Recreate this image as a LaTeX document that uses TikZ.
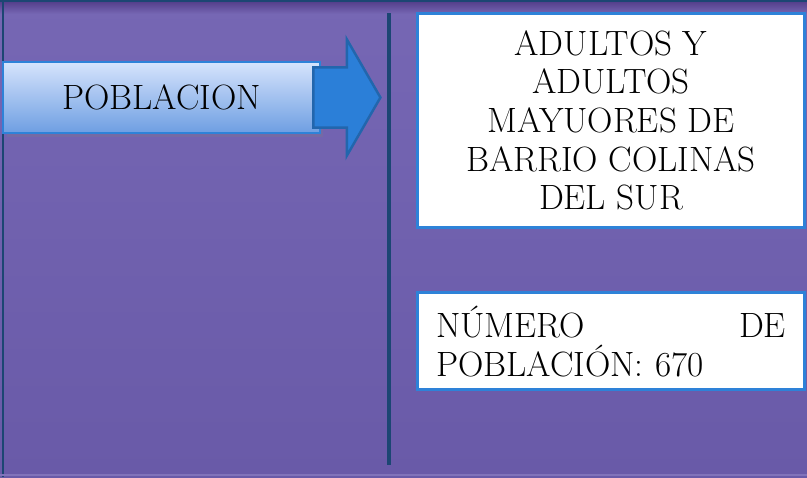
\documentclass[tikz,border=0pt]{standalone}
\usepackage{tikz}
\usetikzlibrary{positioning}
\usetikzlibrary{shapes.arrows, shadows}
\definecolor{fondoarriba}{RGB}{118,103,180}
\definecolor{fondoabajo}{RGB}{105,90,168}
\definecolor{franjaarriba}{RGB}{80,58,134}
\definecolor{azulborde}{RGB}{46,130,216}
\definecolor{azulflecha}{RGB}{43,127,216}
\definecolor{azulclaro}{RGB}{214,228,252}
\definecolor{azulmedio}{RGB}{110,158,226}
\definecolor{lineaoscura}{RGB}{28,70,115}
\tikzset{
x=0.02cm, y=-0.02cm, % one unit is one pixel of the reference
texto/.style={font=\fontsize{20}{22}\selectfont}, % sets the size of all the texts
titulo/.style={texto, draw=azulborde, line width=1.4pt, top color=azulclaro, bottom color=azulmedio,
  drop shadow={opacity=0.25, shadow xshift=2pt, shadow yshift=-2pt}}, % the box on the left
flecha/.style={single arrow, draw=azulflecha!80!black, line width=1.4pt, fill=azulflecha,
  inner xsep=0pt, inner ysep=0.58cm, single arrow head extend=0.56cm,
  single arrow tip angle=120, minimum height=1.34cm}, % the big blue arrow
caja/.style={texto, draw=azulborde, line width=1.7pt, fill=white, minimum width=7.76cm}, % white boxes
lineavertical/.style={lineaoscura, line width=2.6pt}, % the line in the middle
}
\begin{document}
\begin{tikzpicture}
\useasboundingbox (0,0) rectangle (807,477);
% background
\fill[top color=fondoarriba, bottom color=fondoabajo] (0,0) rectangle (807,477);
\fill[top color=franjaarriba, bottom color=fondoarriba] (0,0) rectangle (807,14);
\draw[lineaoscura, line width=1.5pt] (0,1) -- (807,1);
\draw[lineaoscura, line width=1.5pt] (3,0) -- (3,477);
\draw[fondoarriba!92!white, line width=1pt] (0,475) -- (807,475);

\node[titulo, minimum width=6.34cm, minimum height=1.42cm] (poblacion) at (161.5,97.5) {POBLACION};
\node[flecha, right=-0.18cm of poblacion] (flecha) {};

\coordinate (lineaarriba) at (389,13);
\coordinate (lineaabajo) at (389,465);

\node[caja, minimum height=4.3cm, align=center] (adultos) at (611,120.5)
  {ADULTOS Y\\ADULTOS\\MAYUORES DE\\BARRIO COLINAS\\DEL SUR};
\node[caja, below=1.24cm of adultos, minimum height=1.94cm, text width=7cm, align=left] (numero)
  {NÚMERO\hfill DE\\POBLACIÓN: 670};

\draw[lineavertical] (lineaarriba) -- (lineaabajo);

\end{tikzpicture}
\end{document}
